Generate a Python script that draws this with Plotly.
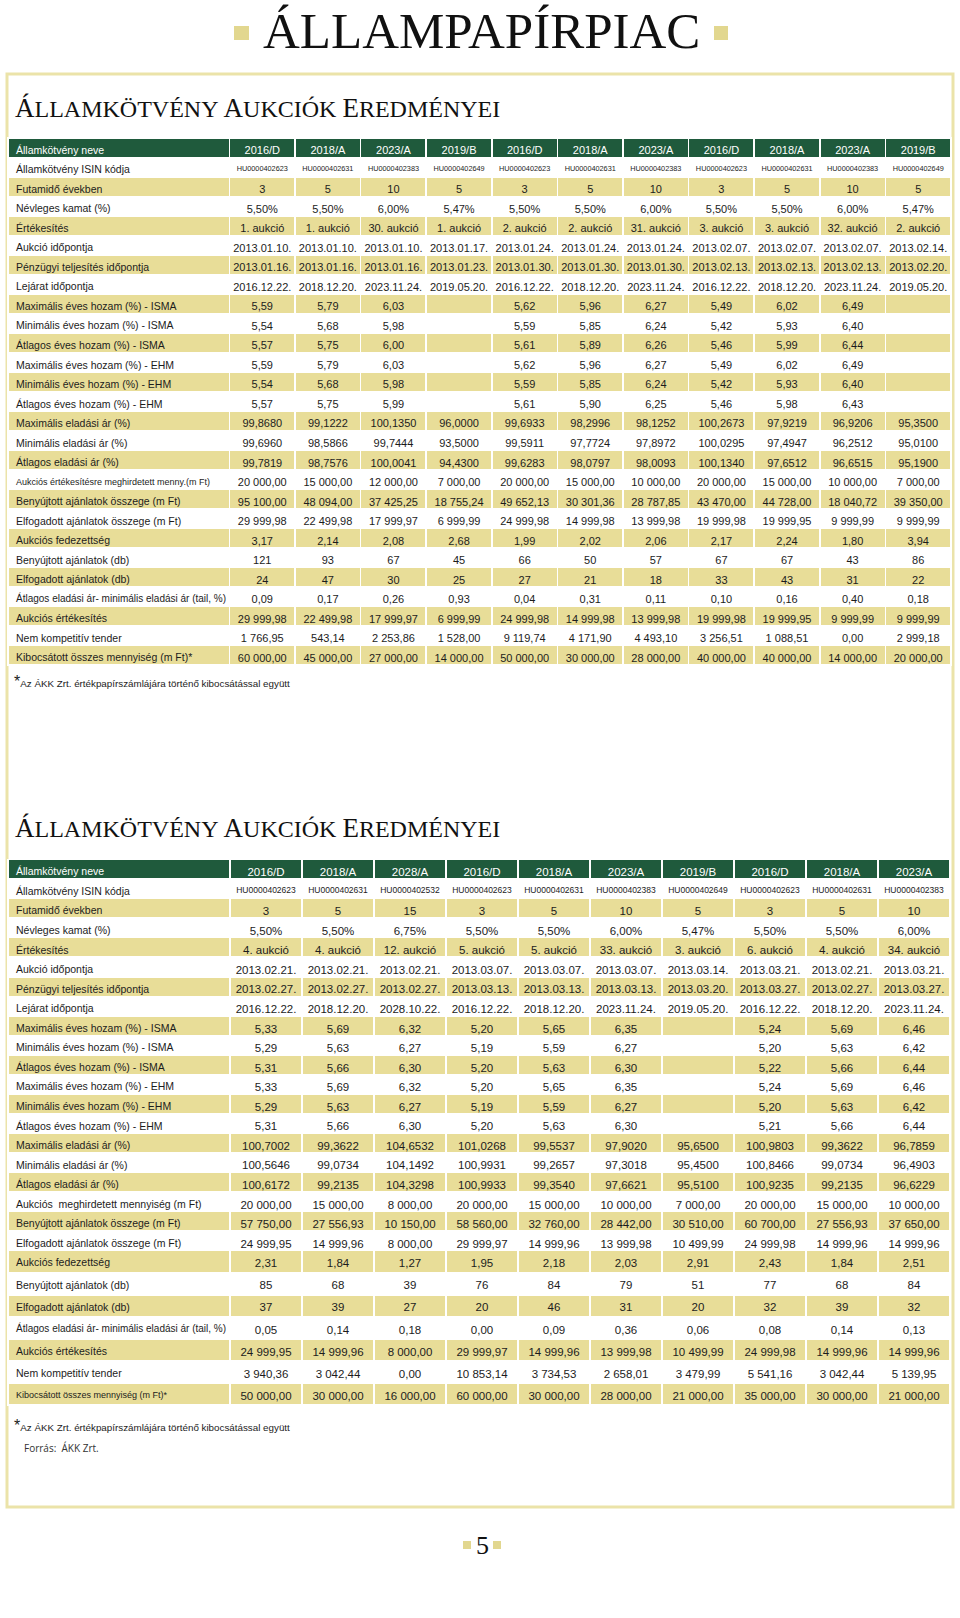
import plotly.graph_objects as go

W, H = 960, 1618

GREEN = '#1f5a3c'
GOLD = '#e8dd98'
FRAME = '#ebe3a9'
SQUARE = '#e2d78f'
INK = '#1c1c1c'
SANS = 'Liberation Sans, Arial, sans-serif'
SERIF = 'Liberation Serif, DejaVu Serif, serif'

# ---------------- first table (January - February 2013) ----------------
names1 = ['2016/D', '2018/A', '2023/A', '2019/B', '2016/D', '2018/A', '2023/A', '2016/D', '2018/A', '2023/A', '2019/B']
isin1 = ['HU0000402623', 'HU0000402631', 'HU0000402383', 'HU0000402649', 'HU0000402623', 'HU0000402631',
         'HU0000402383', 'HU0000402623', 'HU0000402631', 'HU0000402383', 'HU0000402649']
futamido1 = ['3', '5', '10', '5', '3', '5', '10', '3', '5', '10', '5']
kamat1 = ['5,50%', '5,50%', '6,00%', '5,47%', '5,50%', '5,50%', '6,00%', '5,50%', '5,50%', '6,00%', '5,47%']
ertekesites1 = ['1. aukció', '1. aukció', '30. aukció', '1. aukció', '2. aukció', '2. aukció', '31. aukció',
                '3. aukció', '3. aukció', '32. aukció', '2. aukció']
aukcio_datum1 = ['2013.01.10.', '2013.01.10.', '2013.01.10.', '2013.01.17.', '2013.01.24.', '2013.01.24.',
                 '2013.01.24.', '2013.02.07.', '2013.02.07.', '2013.02.07.', '2013.02.14.']
teljesites1 = ['2013.01.16.', '2013.01.16.', '2013.01.16.', '2013.01.23.', '2013.01.30.', '2013.01.30.',
               '2013.01.30.', '2013.02.13.', '2013.02.13.', '2013.02.13.', '2013.02.20.']
lejarat1 = ['2016.12.22.', '2018.12.20.', '2023.11.24.', '2019.05.20.', '2016.12.22.', '2018.12.20.',
            '2023.11.24.', '2016.12.22.', '2018.12.20.', '2023.11.24.', '2019.05.20.']
max_isma1 = ['5,59', '5,79', '6,03', '', '5,62', '5,96', '6,27', '5,49', '6,02', '6,49', '']
min_isma1 = ['5,54', '5,68', '5,98', '', '5,59', '5,85', '6,24', '5,42', '5,93', '6,40', '']
atl_isma1 = ['5,57', '5,75', '6,00', '', '5,61', '5,89', '6,26', '5,46', '5,99', '6,44', '']
max_ehm1 = ['5,59', '5,79', '6,03', '', '5,62', '5,96', '6,27', '5,49', '6,02', '6,49', '']
min_ehm1 = ['5,54', '5,68', '5,98', '', '5,59', '5,85', '6,24', '5,42', '5,93', '6,40', '']
atl_ehm1 = ['5,57', '5,75', '5,99', '', '5,61', '5,90', '6,25', '5,46', '5,98', '6,43', '']
max_ar1 = ['99,8680', '99,1222', '100,1350', '96,0000', '99,6933', '98,2996', '98,1252', '100,2673', '97,9219',
           '96,9206', '95,3500']
min_ar1 = ['99,6960', '98,5866', '99,7444', '93,5000', '99,5911', '97,7724', '97,8972', '100,0295', '97,4947',
           '96,2512', '95,0100']
atl_ar1 = ['99,7819', '98,7576', '100,0041', '94,4300', '99,6283', '98,0797', '98,0093', '100,1340', '97,6512',
           '96,6515', '95,1900']
meghirdetett1 = ['20 000,00', '15 000,00', '12 000,00', '7 000,00', '20 000,00', '15 000,00', '10 000,00',
                 '20 000,00', '15 000,00', '10 000,00', '7 000,00']
benyujtott1 = ['95 100,00', '48 094,00', '37 425,25', '18 755,24', '49 652,13', '30 301,36', '28 787,85',
               '43 470,00', '44 728,00', '18 040,72', '39 350,00']
elfogadott1 = ['29 999,98', '22 499,98', '17 999,97', '6 999,99', '24 999,98', '14 999,98', '13 999,98',
               '19 999,98', '19 999,95', '9 999,99', '9 999,99']
fedezettseg1 = ['3,17', '2,14', '2,08', '2,68', '1,99', '2,02', '2,06', '2,17', '2,24', '1,80', '3,94']
benyujtott_db1 = ['121', '93', '67', '45', '66', '50', '57', '67', '67', '43', '86']
elfogadott_db1 = ['24', '47', '30', '25', '27', '21', '18', '33', '43', '31', '22']
tail1 = ['0,09', '0,17', '0,26', '0,93', '0,04', '0,31', '0,11', '0,10', '0,16', '0,40', '0,18']
aukcios_ert1 = ['29 999,98', '22 499,98', '17 999,97', '6 999,99', '24 999,98', '14 999,98', '13 999,98',
                '19 999,98', '19 999,95', '9 999,99', '9 999,99']
nem_komp1 = ['1 766,95', '543,14', '2 253,86', '1 528,00', '9 119,74', '4 171,90', '4 493,10', '3 256,51',
             '1 088,51', '0,00', '2 999,18']
kibocsatott1 = ['60 000,00', '45 000,00', '27 000,00', '14 000,00', '50 000,00', '30 000,00', '28 000,00',
                '40 000,00', '40 000,00', '14 000,00', '20 000,00']

# ---------------- second table (February - March 2013) ----------------
names2 = ['2016/D', '2018/A', '2028/A', '2016/D', '2018/A', '2023/A', '2019/B', '2016/D', '2018/A', '2023/A']
isin2 = ['HU0000402623', 'HU0000402631', 'HU0000402532', 'HU0000402623', 'HU0000402631', 'HU0000402383',
         'HU0000402649', 'HU0000402623', 'HU0000402631', 'HU0000402383']
futamido2 = ['3', '5', '15', '3', '5', '10', '5', '3', '5', '10']
kamat2 = ['5,50%', '5,50%', '6,75%', '5,50%', '5,50%', '6,00%', '5,47%', '5,50%', '5,50%', '6,00%']
ertekesites2 = ['4. aukció', '4. aukció', '12. aukció', '5. aukció', '5. aukció', '33. aukció', '3. aukció',
                '6. aukció', '4. aukció', '34. aukció']
aukcio_datum2 = ['2013.02.21.', '2013.02.21.', '2013.02.21.', '2013.03.07.', '2013.03.07.', '2013.03.07.',
                 '2013.03.14.', '2013.03.21.', '2013.02.21.', '2013.03.21.']
teljesites2 = ['2013.02.27.', '2013.02.27.', '2013.02.27.', '2013.03.13.', '2013.03.13.', '2013.03.13.',
               '2013.03.20.', '2013.03.27.', '2013.02.27.', '2013.03.27.']
lejarat2 = ['2016.12.22.', '2018.12.20.', '2028.10.22.', '2016.12.22.', '2018.12.20.', '2023.11.24.',
            '2019.05.20.', '2016.12.22.', '2018.12.20.', '2023.11.24.']
max_isma2 = ['5,33', '5,69', '6,32', '5,20', '5,65', '6,35', '', '5,24', '5,69', '6,46']
min_isma2 = ['5,29', '5,63', '6,27', '5,19', '5,59', '6,27', '', '5,20', '5,63', '6,42']
atl_isma2 = ['5,31', '5,66', '6,30', '5,20', '5,63', '6,30', '', '5,22', '5,66', '6,44']
max_ehm2 = ['5,33', '5,69', '6,32', '5,20', '5,65', '6,35', '', '5,24', '5,69', '6,46']
min_ehm2 = ['5,29', '5,63', '6,27', '5,19', '5,59', '6,27', '', '5,20', '5,63', '6,42']
atl_ehm2 = ['5,31', '5,66', '6,30', '5,20', '5,63', '6,30', '', '5,21', '5,66', '6,44']
max_ar2 = ['100,7002', '99,3622', '104,6532', '101,0268', '99,5537', '97,9020', '95,6500', '100,9803', '99,3622',
           '96,7859']
min_ar2 = ['100,5646', '99,0734', '104,1492', '100,9931', '99,2657', '97,3018', '95,4500', '100,8466', '99,0734',
           '96,4903']
atl_ar2 = ['100,6172', '99,2135', '104,3298', '100,9933', '99,3540', '97,6621', '95,5100', '100,9235', '99,2135',
           '96,6229']
meghirdetett2 = ['20 000,00', '15 000,00', '8 000,00', '20 000,00', '15 000,00', '10 000,00', '7 000,00',
                 '20 000,00', '15 000,00', '10 000,00']
benyujtott2 = ['57 750,00', '27 556,93', '10 150,00', '58 560,00', '32 760,00', '28 442,00', '30 510,00',
               '60 700,00', '27 556,93', '37 650,00']
elfogadott2 = ['24 999,95', '14 999,96', '8 000,00', '29 999,97', '14 999,96', '13 999,98', '10 499,99',
               '24 999,98', '14 999,96', '14 999,96']
fedezettseg2 = ['2,31', '1,84', '1,27', '1,95', '2,18', '2,03', '2,91', '2,43', '1,84', '2,51']
benyujtott_db2 = ['85', '68', '39', '76', '84', '79', '51', '77', '68', '84']
elfogadott_db2 = ['37', '39', '27', '20', '46', '31', '20', '32', '39', '32']
tail2 = ['0,05', '0,14', '0,18', '0,00', '0,09', '0,36', '0,06', '0,08', '0,14', '0,13']
aukcios_ert2 = ['24 999,95', '14 999,96', '8 000,00', '29 999,97', '14 999,96', '13 999,98', '10 499,99',
                '24 999,98', '14 999,96', '14 999,96']
nem_komp2 = ['3 940,36', '3 042,44', '0,00', '10 853,14', '3 734,53', '2 658,01', '3 479,99', '5 541,16',
             '3 042,44', '5 139,95']
kibocsatott2 = ['50 000,00', '30 000,00', '16 000,00', '60 000,00', '30 000,00', '28 000,00', '21 000,00',
                '35 000,00', '30 000,00', '21 000,00']

HEAD_LABEL = 'Államkötvény neve'
labels1 = ['Államkötvény ISIN kódja', 'Futamidő években', 'Névleges kamat (%)', 'Értékesítés',
           'Aukció időpontja', 'Pénzügyi teljesítés időpontja', 'Lejárat időpontja',
           'Maximális éves hozam (%) - ISMA', 'Minimális éves hozam (%) - ISMA', 'Átlagos éves hozam (%) - ISMA',
           'Maximális éves hozam (%) - EHM', 'Minimális éves hozam (%) - EHM', 'Átlagos éves hozam (%) - EHM',
           'Maximális eladási ár (%)', 'Minimális eladási ár (%)', 'Átlagos eladási ár (%)',
           'Aukciós értékesítésre meghirdetett menny.(m Ft)', 'Benyújtott ajánlatok összege (m Ft)',
           'Elfogadott ajánlatok összege (m Ft)', 'Aukciós fedezettség', 'Benyújtott ajánlatok (db)',
           'Elfogadott ajánlatok (db)', 'Átlagos eladási ár- minimális eladási ár (tail, %)',
           'Aukciós értékesítés', 'Nem kompetitív tender', 'Kibocsátott összes mennyiség (m Ft)*']
labels2 = list(labels1)
labels2[16] = 'Aukciós  meghirdetett mennyiség (m Ft)'

values1 = [isin1, futamido1, kamat1, ertekesites1, aukcio_datum1, teljesites1, lejarat1,
           max_isma1, min_isma1, atl_isma1, max_ehm1, min_ehm1, atl_ehm1, max_ar1, min_ar1, atl_ar1,
           meghirdetett1, benyujtott1, elfogadott1, fedezettseg1, benyujtott_db1, elfogadott_db1, tail1,
           aukcios_ert1, nem_komp1, kibocsatott1]
values2 = [isin2, futamido2, kamat2, ertekesites2, aukcio_datum2, teljesites2, lejarat2,
           max_isma2, min_isma2, atl_isma2, max_ehm2, min_ehm2, atl_ehm2, max_ar2, min_ar2, atl_ar2,
           meghirdetett2, benyujtott2, elfogadott2, fedezettseg2, benyujtott_db2, elfogadott_db2, tail2,
           aukcios_ert2, nem_komp2, kibocsatott2]


def nb(s):
    # non-breaking spaces keep plotly from growing the rows
    return s.replace(' ', '\u00a0')


def px(x):
    return x / W


def py(y):
    return 1 - y / H


def build_rows(head, labels, values, heights, label_size, value_size, small_labels, isin_size):
    rows = [dict(cells=[HEAD_LABEL] + head, fill=GREEN, color='white', lab=label_size, val=value_size,
                 h=heights[0])]
    for i, (lab, vals) in enumerate(zip(labels, values)):
        rows.append(dict(cells=[lab] + vals, fill=GOLD if i % 2 else 'white', color=INK,
                         lab=small_labels.get(i, label_size), val=isin_size if i == 0 else value_size,
                         h=heights[i + 1]))
    return rows


def add_table(fig, rows, y_top, widths):
    # consecutive rows with the same font sizes go into one trace; the first row is its header
    blocks = []
    for r in rows:
        key = (r['lab'], r['val'], r['h'])
        if blocks and len(blocks[-1]) > 1 and blocks[-1][1]['key'] == key:
            blocks[-1].append(dict(r, key=key))
        elif blocks and len(blocks[-1]) == 1:
            blocks[-1].append(dict(r, key=key))
        else:
            blocks.append([dict(r, key=key)])
    ncol = len(widths)
    x0 = 8
    x1 = x0 + sum(widths)
    y = y_top
    for blk in blocks:
        head, body = blk[0], blk[1:]
        total = sum(r['h'] for r in blk)
        align = ['left'] + ['center'] * (ncol - 1)
        cells = dict(values=[[] for _ in range(ncol)])
        if body:
            cells = dict(
                values=[[nb(r['cells'][c]) for r in body] for c in range(ncol)],
                fill_color=[[r['fill'] for r in body]],
                line=dict(color='white', width=1.6),
                align=align,
                font=dict(family=SANS, size=[body[0]['lab']] + [body[0]['val']] * (ncol - 1), color=INK),
                height=body[0]['h'],
            )
        fig.add_trace(go.Table(
            domain=dict(x=[px(x0), px(x1)], y=[py(y + total + 1), py(y)]),
            columnwidth=widths,
            header=dict(
                values=[nb(v) for v in head['cells']],
                fill_color=head['fill'],
                line=dict(color='white', width=1.6),
                align=align,
                font=dict(family=SANS, size=[head['lab']] + [head['val']] * (ncol - 1), color=head['color']),
                height=head['h'],
            ),
            cells=cells,
        ))
        y += total


fig = go.Figure()

rows1 = build_rows(names1, labels1, values1, [19.53] * 27, 10.5, 11, {16: 9, 22: 10}, 7.3)
add_table(fig, rows1, 137.8, [221.5] + [65.6] * 11)

rows2 = build_rows(names2, labels2, values2, [19.56] * 20 + [22.1] * 7, 10.5, 11.5, {22: 10, 25: 9}, 8.5)
add_table(fig, rows2, 859.4, [222] + [72] * 10)

shapes = [
    dict(type='rect', xref='paper', yref='paper', x0=px(7), x1=px(953), y0=py(74), y1=py(1507),
         line=dict(color=FRAME, width=3), layer='below'),
]
for a, b, c, d in [(234, 249, 26, 40), (714, 728, 26, 40), (463, 471, 1541, 1549), (493, 501, 1541, 1549)]:
    shapes.append(dict(type='rect', xref='paper', yref='paper', x0=px(a), x1=px(b), y0=py(d), y1=py(c),
                       fillcolor=SQUARE, line=dict(width=0)))

section = ('<span style="font-size:27px">Á</span>LLAMKÖTVÉNY '
           '<span style="font-size:27px">A</span>UKCIÓK '
           '<span style="font-size:27px">E</span>REDMÉNYEI')
note = '<span style="font-size:16px">*</span>Az ÁKK Zrt. értékpapírszámlájára történő kibocsátással együtt'

annotations = [
    dict(text='ÁLLAMPAPÍRPIAC', x=px(481), y=py(31), xanchor='center', yanchor='middle',
         font=dict(family=SERIF, size=51, color='#111111')),
    dict(text=section, x=px(13), y=py(108), xanchor='left', yanchor='middle',
         font=dict(family=SERIF, size=24, color='#111111')),
    dict(text=section, x=px(13), y=py(828), xanchor='left', yanchor='middle',
         font=dict(family=SERIF, size=24, color='#111111')),
    dict(text=note, x=px(12), y=py(682), xanchor='left', yanchor='middle',
         font=dict(family=SANS, size=9.8, color=INK)),
    dict(text=note, x=px(12), y=py(1425), xanchor='left', yanchor='middle',
         font=dict(family=SANS, size=9.8, color=INK)),
    dict(text='Forrás:  ÁKK Zrt.', x=px(22), y=py(1448), xanchor='left', yanchor='middle',
         font=dict(family='Open Sans, Noto Sans, sans-serif', size=10, color='#333333')),
    dict(text='5', x=px(482), y=py(1545), xanchor='center', yanchor='middle',
         font=dict(family=SERIF, size=26, color='#111111')),
]
for a in annotations:
    a.update(xref='paper', yref='paper', showarrow=False)

fig.update_layout(
    width=W,
    height=H,
    margin=dict(l=0, r=0, t=0, b=0),
    paper_bgcolor='white',
    plot_bgcolor='white',
    shapes=shapes,
    annotations=annotations,
    showlegend=False,
)

fig.write_html('out.html', config={'displayModeBar': False},
               post_script="document.body.style.margin='0';")
